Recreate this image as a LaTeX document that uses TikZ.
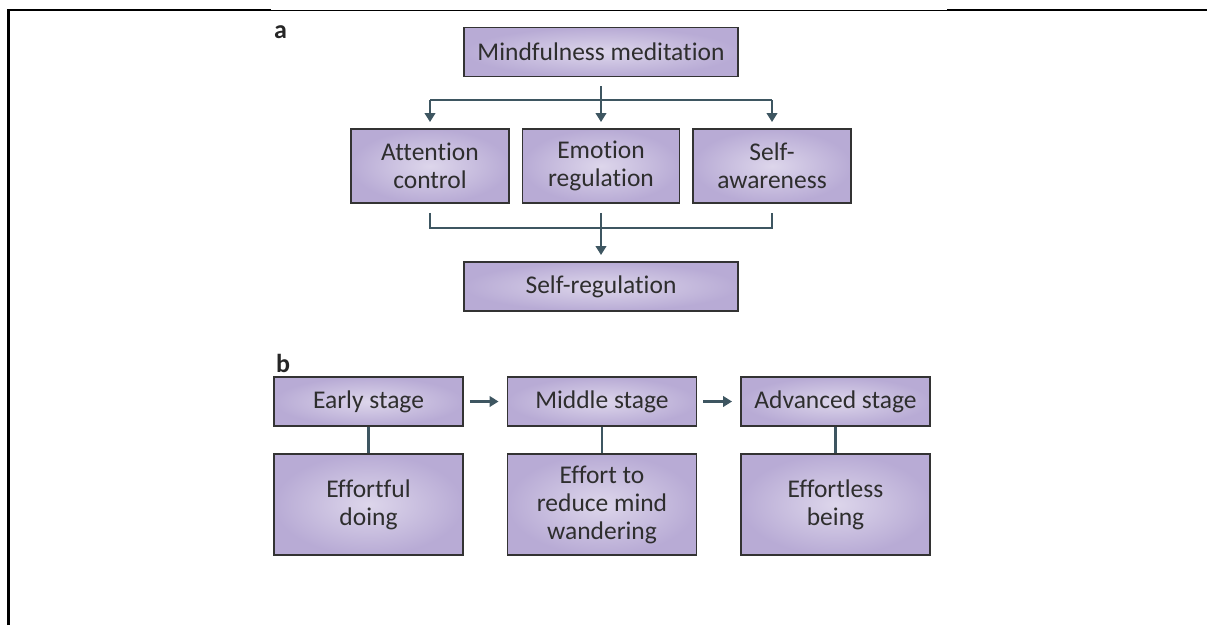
\documentclass[tikz,border=0pt]{standalone}
\usepackage{fontspec}
\setmainfont{Carlito}[Ligatures=NoCommon]
\usetikzlibrary{arrows.meta,calc}
\definecolor{boxedge}{HTML}{333333}
\definecolor{boxin}{HTML}{DDD6EB}
\definecolor{boxout}{HTML}{B8ABD5}
\definecolor{txt}{HTML}{2E2E2E}
\definecolor{linec}{HTML}{3E5661}
\begin{document}
\begin{tikzpicture}[x=1pt,y=-1pt,
  box/.style={draw=boxedge, line width=1.9pt, inner color=boxin, outer color=boxout,
    text=txt, font=\fontsize{25.5}{28}\selectfont, align=center, inner sep=0pt,
    minimum height=49pt},
  conn/.style={draw=linec, line width=2.4pt},
  arr/.style={conn, -{Triangle[length=9pt,width=10.5pt]}, shorten >=6pt},
  lab/.style={font=\bfseries\fontsize{26}{26}\selectfont, inner sep=0pt, text=black!85}]
\useasboundingbox (0,0) rectangle (1207,625);
% frame
\draw[line width=2.6pt] (8.5,625) -- (8.5,10) -- (271,10);
\draw[line width=1pt] (271,10) -- (947,10);
\draw[line width=2.6pt] (947,10) -- (1207,10);
% labels
\node[lab, anchor=base west] (la) at (274,38) {a};
\node[lab, anchor=base west] (lb) at (276,372) {b};
% part a
\node[box, minimum width=274pt] (mm) at (601,52) {Mindfulness meditation};
\node[box, minimum width=158pt, minimum height=74pt] (ac) at (430,166) {Attention\\control};
\node[box, minimum width=157pt, minimum height=74pt] (er) at (601,166) {Emotion\\regulation};
\node[box, minimum width=158pt, minimum height=74pt] (sa) at (772,166) {Self-\\awareness};
\node[box, minimum width=274pt] (sr) at (601,286.5) {Self-regulation};
\coordinate (j1) at (601,100);
\coordinate (j2) at (601,228);
\draw[conn] ([yshift=-9pt]mm.south) -- (j1);
\draw[conn] (j1 -| ac.north) -- (j1 -| sa.north);
\draw[arr] (j1 -| ac.north) -- (ac.north);
\draw[arr] (j1) -- (er.north);
\draw[arr] (j1 -| sa.north) -- (sa.north);
\draw[conn] ([yshift=-9pt]ac.south) |- (j2 -| sa.south) -- ([yshift=-9pt]sa.south);
\draw[arr] ([yshift=-9pt]er.south) -- (sr.north);
% part b
\node[box, minimum width=189pt] (es) at (368.5,401.5) {Early stage};
\node[box, minimum width=189pt] (ms) at (602,401.5) {Middle stage};
\node[box, minimum width=189pt] (as) at (835.5,401.5) {Advanced stage};
\node[box, minimum width=189pt, minimum height=101pt] (ed) at (368.5,504.5) {Effortful\\doing};
\node[box, minimum width=189pt, minimum height=101pt] (rw) at (602,504.5) {Effort to\\reduce mind\\wandering};
\node[box, minimum width=189pt, minimum height=101pt] (eb) at (835.5,504.5) {Effortless\\being};
\draw[arr, shorten <=6pt, shorten >=8pt] (es.east) -- (ms.west);
\draw[arr, shorten <=6pt, shorten >=8pt] (ms.east) -- (as.west);
\draw[conn] (es.south) -- (ed.north);
\draw[conn] (ms.south) -- (rw.north);
\draw[conn] (as.south) -- (eb.north);
\end{tikzpicture}
\end{document}
